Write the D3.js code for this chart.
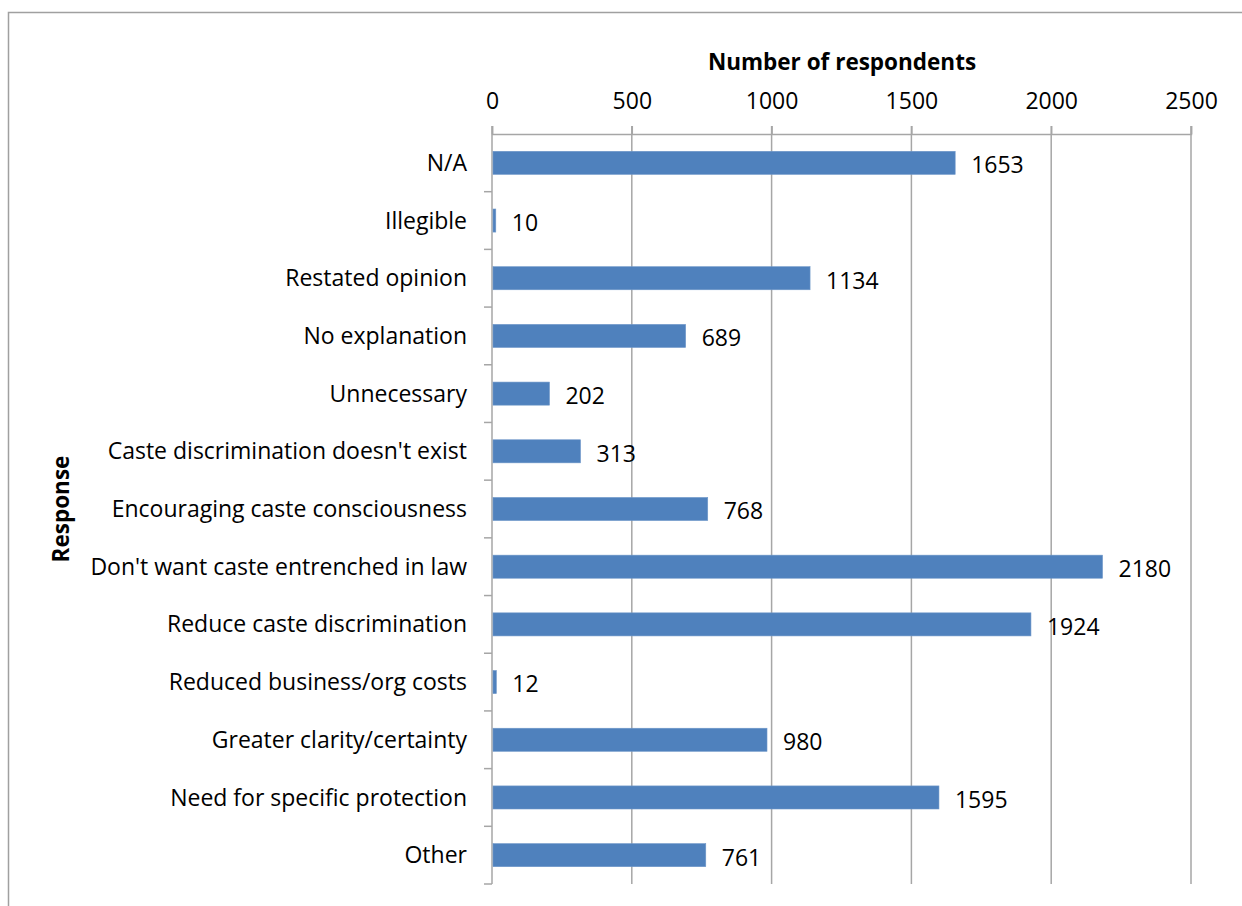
<!DOCTYPE html>
<html>
<head>
<meta charset="utf-8">
<script src="https://cdn.jsdelivr.net/npm/d3@7"></script>
<style>
  html, body { margin: 0; padding: 0; background: #fff; }
  svg { display: block; font-family: "Open Sans", "Noto Sans", sans-serif; }
</style>
</head>
<body>
<svg id="chart" width="1242" height="906"></svg>
<script>
// Survey responses and their counts
const categories = [
  "N/A", "Illegible", "Restated opinion", "No explanation", "Unnecessary",
  "Caste discrimination doesn't exist", "Encouraging caste consciousness",
  "Don't want caste entrenched in law", "Reduce caste discrimination",
  "Reduced business/org costs", "Greater clarity/certainty",
  "Need for specific protection", "Other"
];
const respondents = [1653, 10, 1134, 689, 202, 313, 768, 2180, 1924, 12, 980, 1595, 761];
const xTicks = [0, 500, 1000, 1500, 2000, 2500];

const svg = d3.select("#chart");
const margin = { left: 492, right: 51, top: 134, bottom: 22 };
const W = 1242, H = 906;
const fs = 23;

// outer frame
svg.append("rect")
  .attr("x", 8.5).attr("y", 12.5)
  .attr("width", W).attr("height", H)
  .attr("fill", "none").attr("stroke", "#a0a0a0").attr("stroke-width", 1.5);

const x = d3.scaleLinear().domain([0, 2500]).range([margin.left, W - margin.right]);
const y = d3.scaleBand().domain(categories).range([margin.top, H - margin.bottom]).paddingInner(0.6).paddingOuter(0.3);
const yEdges = d3.scaleLinear().domain([0, categories.length]).range([margin.top, H - margin.bottom]);

const gridColor = "#a6a6a6";

// vertical gridlines
svg.append("g").selectAll("line").data(xTicks.slice(1)).join("line")
  .attr("x1", d => x(d)).attr("x2", d => x(d))
  .attr("y1", margin.top - 8).attr("y2", H - margin.bottom)
  .attr("stroke", gridColor).attr("stroke-width", 1.5);

// top value axis
const xAxis = svg.append("g")
  .attr("transform", `translate(0,${margin.top})`)
  .call(d3.axisTop(x).tickValues(xTicks).tickSize(8).tickPadding(17).tickFormat(d3.format("d")));
xAxis.select(".domain").attr("stroke", gridColor).attr("stroke-width", 1.5);
xAxis.selectAll(".tick line").attr("stroke", gridColor).attr("stroke-width", 1.5);
xAxis.selectAll(".tick text").attr("font-size", fs).attr("fill", "#000")
  .attr("font-family", "'Open Sans', sans-serif");

// category axis line and boundary ticks
svg.append("line")
  .attr("x1", margin.left).attr("x2", margin.left)
  .attr("y1", margin.top - 8).attr("y2", H - margin.bottom)
  .attr("stroke", gridColor).attr("stroke-width", 1.5);
svg.append("g").selectAll("line").data(d3.range(1, categories.length + 1)).join("line")
  .attr("x1", margin.left - 8).attr("x2", margin.left)
  .attr("y1", d => yEdges(d)).attr("y2", d => yEdges(d))
  .attr("stroke", gridColor).attr("stroke-width", 1.5);

// category labels
svg.append("g").selectAll("text").data(categories).join("text")
  .attr("x", margin.left - 25)
  .attr("y", d => y(d) + y.bandwidth() / 2)
  .attr("dy", "0.35em")
  .attr("text-anchor", "end")
  .attr("font-size", fs)
  .attr("fill", "#000")
  .text(d => d);

// bars
svg.append("g").selectAll("rect").data(categories).join("rect")
  .attr("x", x(0) + 1)
  .attr("y", d => y(d))
  .attr("width", (d, i) => x(respondents[i]) - x(0))
  .attr("height", y.bandwidth())
  .attr("fill", "#4f81bd")
  .attr("stroke", "#6f97c9").attr("stroke-width", 0.6);

// value labels
svg.append("g").selectAll("text").data(categories).join("text")
  .attr("x", (d, i) => x(respondents[i]) + 17)
  .attr("y", d => y(d) + y.bandwidth() / 2)
  .attr("dy", "0.45em")
  .attr("font-size", fs)
  .attr("fill", "#000")
  .text((d, i) => respondents[i]);

// axis titles
svg.append("text")
  .attr("x", 842).attr("y", 70)
  .attr("text-anchor", "middle")
  .attr("font-size", 22.5).attr("font-weight", "bold")
  .text("Number of respondents");

svg.append("text")
  .attr("transform", `translate(69,${(margin.top + H - margin.bottom) / 2}) rotate(-90)`)
  .attr("text-anchor", "middle")
  .attr("font-size", 22.5).attr("font-weight", "bold")
  .text("Response");
</script>
</body>
</html>
